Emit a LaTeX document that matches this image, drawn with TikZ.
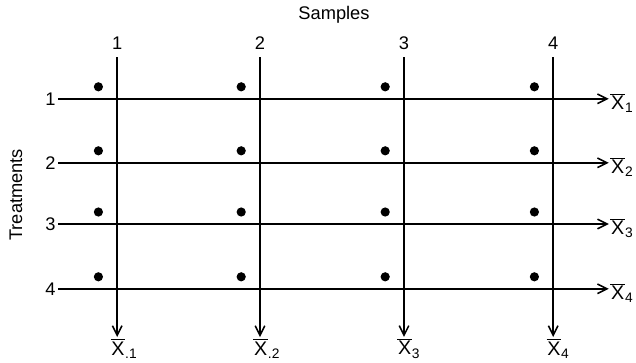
\documentclass[tikz,border=0pt]{standalone}
\usepackage{fontspec}
\setmainfont{Liberation Sans}
\usetikzlibrary{arrows.meta}
\newcommand{\xbarlab}[1]{{\fontsize{14}{16}\selectfont$\overline{\mbox{\kern0.5pt X\kern0.5pt}}$\textsubscript{#1}}}

\begin{document}
\begin{tikzpicture}[every node/.style={font=\fontsize{13}{15}\selectfont},
    gridarrow/.style={line width=1.1pt, -{Straight Barb[length=2.4mm,width=2.4mm]}},
    sampledot/.style={circle, fill=black, inner sep=0pt, minimum size=2.3mm}]
\useasboundingbox (0,0) rectangle (15.9, 9.05);

% Headings
\node (samples) at (8.35, 8.68) {Samples};
\node[rotate=90] (treat) at (0.40, 4.18) {Treatments};

% Sample columns
\node (s1) at (2.93, 7.98) {1};
\node (s2) at (6.50, 7.98) {2};
\node (s3) at (10.10, 7.98) {3};
\node (s4) at (13.83, 7.98) {4};
\coordinate (t1) at (2.93, 7.62);
\coordinate (t2) at (6.50, 7.62);
\coordinate (t3) at (10.10, 7.62);
\coordinate (t4) at (13.83, 7.62);
\node[inner sep=1pt] (m1) at (3.10, 0.34) {\xbarlab{.1}};
\node[inner sep=1pt] (m2) at (6.67, 0.34) {\xbarlab{.2}};
\node[inner sep=1pt] (m3) at (10.22, 0.34) {\xbarlab{3}};
\node[inner sep=1pt] (m4) at (13.95, 0.34) {\xbarlab{4}};

% Treatment rows
\node[anchor=east, inner sep=1.5pt] (r1) at (1.45, 6.58) {1};
\node[anchor=east, inner sep=1.5pt] (r2) at (1.45, 4.98) {2};
\node[anchor=east, inner sep=1.5pt] (r3) at (1.45, 3.45) {3};
\node[anchor=east, inner sep=1.5pt] (r4) at (1.45, 1.83) {4};
\node[anchor=west, inner sep=1pt] (x1) at (15.22, 6.48) {\xbarlab{1}};
\node[anchor=west, inner sep=1pt] (x2) at (15.22, 4.88) {\xbarlab{2}};
\node[anchor=west, inner sep=1pt] (x3) at (15.22, 3.35) {\xbarlab{3}};
\node[anchor=west, inner sep=1pt] (x4) at (15.22, 1.73) {\xbarlab{4}};

\draw[gridarrow] (r1.east) -- (r1.east -| x1.west);
\draw[gridarrow] (r2.east) -- (r2.east -| x2.west);
\draw[gridarrow] (r3.east) -- (r3.east -| x3.west);
\draw[gridarrow] (r4.east) -- (r4.east -| x4.west);

\draw[gridarrow] (t1) -- (t1 |- m1.north);
\draw[gridarrow] (t2) -- (t2 |- m2.north);
\draw[gridarrow] (t3) -- (t3 |- m3.north);
\draw[gridarrow] (t4) -- (t4 |- m4.north);

% Observations
\foreach \x in {2.93, 6.50, 10.10, 13.83}
  \foreach \y in {6.58, 4.98, 3.45, 1.83}
    \node[sampledot] at (\x-0.47, \y+0.30) {};

\end{tikzpicture}
\end{document}
